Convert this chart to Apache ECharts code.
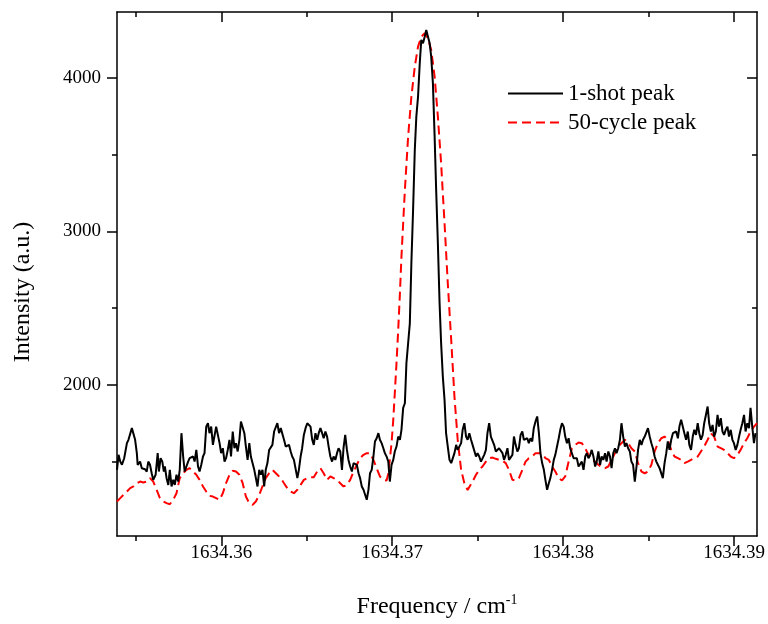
<!DOCTYPE html>
<html>
<head>
<meta charset="utf-8">
<script src="https://cdn.jsdelivr.net/npm/echarts@6/dist/echarts.min.js"></script>
<style>html,body{margin:0;padding:0;background:#fff}#c{width:768px;height:624px}</style>
</head>
<body>
<div id="c"></div>
<script>
// ---- data ----
const seriesNames = ['1-shot peak', '50-cycle peak'];
const xTickLabels = [1634.36, 1634.37, 1634.38, 1634.39];
const xMinorTicks = [1634.355, 1634.365, 1634.375, 1634.385];
const yTickLabels = [2000, 3000, 4000];
const yMinorTicks = [1500, 2500, 3500];
const xRange = [1634.3539, 1634.39134];
const yRange = [1015, 4430];

// 1-shot peak: [frequency (cm^-1), intensity (a.u.)]
const shotPeak = [
[1634.35390,1446],[1634.35399,1544],[1634.35409,1500],[1634.35419,1479],[1634.35432,1522],[1634.35448,1620],[1634.35457,1642],[1634.35467,1631],[1634.35477,1718],[1634.35486,1724],[1634.35496,1642],[1634.35506,1555],[1634.35511,1479],[1634.35519,1468],[1634.35525,1500],[1634.35535,1457],[1634.35544,1446],[1634.35554,1450],[1634.35564,1435],[1634.35573,1500],[1634.35583,1479],[1634.35593,1424],[1634.35602,1381],[1634.35608,1370],[1634.35616,1414],[1634.35628,1555],[1634.35635,1435],[1634.35645,1522],[1634.35655,1500],[1634.35664,1435],[1634.35670,1468],[1634.35680,1392],[1634.35690,1348],[1634.35699,1446],[1634.35709,1338],[1634.35719,1381],[1634.35728,1348],[1634.35738,1414],[1634.35748,1370],[1634.35757,1446],[1634.35767,1685],[1634.35777,1533],[1634.35786,1435],[1634.35796,1468],[1634.35806,1500],[1634.35815,1522],[1634.35825,1511],[1634.35835,1533],[1634.35844,1500],[1634.35854,1576],[1634.35864,1468],[1634.35873,1435],[1634.35883,1479],[1634.35893,1533],[1634.35902,1555],[1634.35912,1728],[1634.35922,1750],[1634.35931,1685],[1634.35941,1728],[1634.35951,1609],[1634.35960,1620],[1634.35970,1728],[1634.35980,1674],[1634.35990,1620],[1634.35999,1555],[1634.36009,1587],[1634.36019,1500],[1634.36028,1522],[1634.36038,1576],[1634.36048,1642],[1634.36057,1533],[1634.36067,1696],[1634.36077,1587],[1634.36086,1620],[1634.36096,1566],[1634.36106,1642],[1634.36115,1761],[1634.36125,1772],[1634.36135,1685],[1634.36144,1598],[1634.36154,1511],[1634.36164,1620],[1634.36173,1533],[1634.36183,1522],[1634.36193,1446],[1634.36202,1446],[1634.36212,1338],[1634.36222,1446],[1634.36231,1414],[1634.36241,1446],[1634.36251,1338],[1634.36260,1446],[1634.36270,1490],[1634.36280,1576],[1634.36290,1587],[1634.36299,1609],
[1634.36309,1696],[1634.36319,1685],[1634.36328,1750],[1634.36338,1685],[1634.36348,1718],[1634.36357,1707],[1634.36367,1642],[1634.36377,1598],[1634.36386,1587],[1634.36396,1609],[1634.36406,1566],[1634.36415,1533],[1634.36425,1511],[1634.36435,1500],[1634.36445,1392],[1634.36454,1446],[1634.36464,1533],[1634.36473,1587],[1634.36483,1674],[1634.36493,1718],[1634.36503,1750],[1634.36512,1750],[1634.36522,1728],[1634.36532,1642],[1634.36541,1609],[1634.36551,1685],[1634.36561,1642],[1634.36570,1685],[1634.36580,1718],[1634.36590,1685],[1634.36599,1652],[1634.36609,1696],[1634.36619,1663],[1634.36628,1598],[1634.36638,1533],[1634.36648,1500],[1634.36657,1533],[1634.36667,1511],[1634.36677,1555],[1634.36686,1587],[1634.36696,1566],[1634.36706,1446],[1634.36715,1587],[1634.36725,1674],[1634.36735,1576],[1634.36744,1511],[1634.36754,1468],[1634.36764,1435],[1634.36774,1490],[1634.36783,1500],[1634.36793,1479],[1634.36803,1424],[1634.36812,1392],[1634.36822,1338],[1634.36832,1316],[1634.36841,1327],[1634.36851,1251],[1634.36861,1316],[1634.36870,1424],[1634.36880,1446],[1634.36890,1533],[1634.36899,1631],[1634.36909,1652],[1634.36919,1685],[1634.36928,1642],[1634.36938,1620],[1634.36948,1587],[1634.36957,1555],[1634.36967,1533],[1634.36977,1500],[1634.36986,1370],[1634.36996,1479],[1634.37006,1511],[1634.37015,1566],[1634.37025,1598],[1634.37035,1663],[1634.37045,1642],[1634.37054,1707],[1634.37064,1850],
[1634.37074,1880],[1634.37083,2141],[1634.37093,2271],[1634.37103,2401],[1634.37112,2792],[1634.37122,3140],[1634.37132,3531],[1634.37141,3748],[1634.37151,3878],[1634.37161,4096],[1634.37170,4248],[1634.37180,4226],[1634.37190,4269],[1634.37199,4313],[1634.37209,4324],[1634.37219,4226],[1634.37228,4139],[1634.37238,3965],[1634.37248,3618],[1634.37257,3270],[1634.37267,2923],[1634.37277,2532],[1634.37286,2271],[1634.37296,2054],[1634.37306,1902],[1634.37315,1685],
[1634.37325,1598],[1634.37335,1511],[1634.37345,1490],[1634.37354,1479],[1634.37364,1555],[1634.37374,1609],[1634.37383,1576],[1634.37393,1566],[1634.37403,1620],[1634.37412,1707],[1634.37422,1750],[1634.37432,1663],[1634.37441,1642],[1634.37451,1685],[1634.37461,1642],[1634.37470,1609],[1634.37480,1620],[1634.37490,1533],[1634.37499,1555],[1634.37509,1533],[1634.37519,1500],[1634.37528,1490],[1634.37538,1544],[1634.37548,1576],[1634.37557,1685],[1634.37567,1750],[1634.37577,1663],[1634.37587,1652],[1634.37596,1609],[1634.37606,1566],[1634.37616,1555],[1634.37625,1587],[1634.37635,1576],[1634.37645,1555],[1634.37654,1511],[1634.37664,1544],[1634.37674,1587],[1634.37683,1511],[1634.37693,1522],[1634.37703,1544],[1634.37712,1663],[1634.37722,1609],[1634.37732,1566],[1634.37741,1587],[1634.37751,1674],[1634.37761,1696],[1634.37770,1642],[1634.37780,1642],[1634.37790,1652],[1634.37799,1620],[1634.37809,1652],[1634.37819,1631],[1634.37828,1718],[1634.37838,1761],[1634.37848,1794],[1634.37858,1685],[1634.37867,1555],[1634.37877,1490],[1634.37887,1446],[1634.37896,1381],[1634.37906,1316],[1634.37916,1359],[1634.37925,1392],[1634.37935,1446],[1634.37945,1511],[1634.37954,1544],[1634.37964,1598],[1634.37974,1652],[1634.37983,1707],[1634.37993,1750],[1634.38003,1728],[1634.38012,1663],[1634.38022,1620],[1634.38032,1652],[1634.38041,1587],[1634.38051,1576],[1634.38061,1522],[1634.38070,1511],[1634.38080,1522],[1634.38090,1468],[1634.38099,1479],[1634.38109,1500],[1634.38119,1446],[1634.38129,1533],[1634.38138,1555],[1634.38148,1522],[1634.38158,1544],
[1634.38167,1576],[1634.38177,1533],[1634.38187,1468],[1634.38196,1500],[1634.38206,1566],[1634.38216,1479],[1634.38225,1533],[1634.38235,1511],[1634.38245,1555],[1634.38254,1500],[1634.38264,1566],[1634.38274,1533],[1634.38283,1457],[1634.38293,1555],[1634.38303,1587],[1634.38312,1555],[1634.38322,1587],[1634.38332,1642],[1634.38341,1750],[1634.38351,1663],[1634.38361,1598],[1634.38370,1620],[1634.38380,1587],[1634.38390,1566],[1634.38399,1500],[1634.38409,1479],[1634.38419,1370],[1634.38429,1468],[1634.38438,1576],[1634.38448,1642],[1634.38458,1609],[1634.38467,1642],[1634.38477,1663],[1634.38487,1652],[1634.38496,1718],[1634.38506,1663],[1634.38516,1620],[1634.38525,1587],[1634.38535,1533],[1634.38545,1500],[1634.38554,1479],[1634.38564,1457],[1634.38574,1446],[1634.38583,1392],[1634.38593,1490],[1634.38603,1555],[1634.38612,1631],[1634.38622,1576],[1634.38632,1642],[1634.38642,1685],[1634.38651,1685],[1634.38661,1696],[1634.38671,1652],[1634.38680,1728],[1634.38690,1772],[1634.38700,1761],[1634.38709,1685],[1634.38719,1642],[1634.38729,1696],[1634.38738,1609],[1634.38748,1576],[1634.38758,1663],[1634.38767,1707],[1634.38777,1674],[1634.38787,1750],[1634.38796,1685],[1634.38806,1642],[1634.38816,1674],[1634.38825,1750],[1634.38835,1804],[1634.38845,1859],[1634.38854,1750],[1634.38864,1696],[1634.38874,1739],[1634.38883,1663],[1634.38893,1696],[1634.38903,1804],[1634.38912,1728],[1634.38922,1783],[1634.38932,1696],[1634.38941,1674],[1634.38951,1707],[1634.38961,1728],[1634.38970,1663],[1634.38980,1707],[1634.38990,1642],[1634.38999,1620],[1634.39009,1576],[1634.39019,1609],[1634.39029,1663],[1634.39038,1707],[1634.39048,1750],[1634.39058,1804],[1634.39067,1696],[1634.39077,1750],[1634.39087,1718],[1634.39096,1850],[1634.39106,1728],[1634.39116,1620],[1634.39125,1685]
];

// 50-cycle peak: [frequency (cm^-1), intensity (a.u.)]
const cyclePeak = [
[1634.35390,1240],[1634.35409,1262],[1634.35428,1283],[1634.35448,1305],[1634.35467,1327],[1634.35486,1338],[1634.35506,1359],[1634.35525,1370],[1634.35544,1364],[1634.35564,1370],[1634.35583,1392],[1634.35602,1370],[1634.35622,1316],[1634.35641,1262],[1634.35661,1240],[1634.35680,1229],[1634.35699,1222],[1634.35719,1251],[1634.35738,1294],[1634.35757,1392],[1634.35777,1424],[1634.35796,1446],[1634.35815,1457],[1634.35835,1435],[1634.35854,1414],[1634.35873,1381],[1634.35893,1338],[1634.35912,1305],[1634.35931,1277],[1634.35951,1272],[1634.35970,1262],[1634.35990,1251],[1634.36009,1294],[1634.36028,1359],[1634.36048,1414],[1634.36067,1440],[1634.36086,1435],[1634.36106,1414],[1634.36125,1359],[1634.36144,1272],[1634.36164,1229],[1634.36183,1218],[1634.36202,1240],[1634.36222,1283],[1634.36241,1338],[1634.36260,1392],[1634.36280,1424],[1634.36299,1446],
[1634.36309,1457],[1634.36328,1414],[1634.36348,1392],[1634.36367,1359],[1634.36386,1327],[1634.36406,1305],[1634.36425,1294],[1634.36445,1316],[1634.36464,1348],[1634.36483,1381],[1634.36503,1392],[1634.36522,1398],[1634.36541,1398],[1634.36561,1435],[1634.36580,1457],[1634.36599,1424],[1634.36619,1381],[1634.36638,1403],[1634.36657,1392],[1634.36677,1381],[1634.36696,1359],[1634.36715,1338],[1634.36735,1348],[1634.36754,1381],[1634.36774,1435],[1634.36793,1479],[1634.36812,1522],[1634.36832,1544],[1634.36851,1555],[1634.36870,1555],[1634.36890,1511],[1634.36909,1457],[1634.36928,1403],[1634.36948,1381],[1634.36967,1377],
[1634.36977,1420],[1634.36996,1619],[1634.37006,1771],[1634.37015,1945],[1634.37025,2141],[1634.37035,2358],[1634.37045,2597],[1634.37054,2836],[1634.37064,3053],[1634.37074,3270],[1634.37093,3618],[1634.37112,3878],[1634.37132,4074],[1634.37151,4204],[1634.37170,4269],[1634.37190,4291],[1634.37209,4258],[1634.37228,4182],[1634.37248,4009],[1634.37267,3748],[1634.37286,3444],[1634.37306,3053],[1634.37325,2662],[1634.37345,2293],[1634.37364,1923],[1634.37383,1641],[1634.37403,1446],[1634.37422,1359],[1634.37441,1315],
[1634.37451,1327],[1634.37470,1370],[1634.37490,1414],[1634.37509,1446],[1634.37528,1468],[1634.37548,1500],[1634.37567,1522],[1634.37587,1526],[1634.37606,1518],[1634.37625,1511],[1634.37645,1505],[1634.37664,1490],[1634.37683,1446],[1634.37703,1381],[1634.37722,1377],[1634.37741,1392],[1634.37761,1446],[1634.37780,1500],[1634.37799,1522],[1634.37819,1533],[1634.37838,1555],[1634.37858,1555],[1634.37877,1555],[1634.37896,1522],[1634.37916,1511],[1634.37935,1468],[1634.37954,1435],[1634.37974,1392],[1634.37993,1377],[1634.38012,1403],[1634.38032,1500],[1634.38051,1587],[1634.38070,1609],[1634.38090,1624],[1634.38109,1620],[1634.38129,1587],[1634.38148,1544],
[1634.38167,1511],[1634.38187,1500],[1634.38206,1479],[1634.38225,1464],[1634.38245,1457],[1634.38264,1468],[1634.38283,1511],[1634.38303,1555],[1634.38322,1598],[1634.38341,1620],[1634.38361,1642],[1634.38380,1620],[1634.38399,1587],[1634.38419,1566],[1634.38438,1490],[1634.38458,1435],[1634.38477,1424],[1634.38496,1435],[1634.38516,1479],[1634.38535,1566],[1634.38554,1620],[1634.38574,1652],[1634.38593,1663],[1634.38612,1642],[1634.38632,1576],[1634.38651,1533],[1634.38671,1522],[1634.38690,1511],[1634.38709,1490],[1634.38729,1500],[1634.38748,1511],[1634.38767,1522],[1634.38787,1533],[1634.38806,1566],[1634.38825,1598],[1634.38845,1642],[1634.38864,1685],[1634.38883,1663],[1634.38903,1598],[1634.38922,1587],[1634.38941,1576],[1634.38961,1555],[1634.38980,1533],[1634.38999,1522],[1634.39019,1544],[1634.39038,1576],[1634.39058,1620],[1634.39077,1652],[1634.39096,1696],[1634.39116,1728],[1634.39134,1750]
];

// ---- chart ----
const FONT = 'Liberation Serif';
const AX = { color: '#000', width: 1.5 };
function xAxisDef(pos, ticks, len, inside, labels, line, extra) {
  return Object.assign({
    type: 'value', position: pos, min: xRange[0], max: xRange[1],
    axisLine: { show: line, onZero: false, lineStyle: AX },
    axisTick: { show: true, inside: inside, length: len, customValues: ticks, lineStyle: AX },
    axisLabel: labels ? { show: true, customValues: ticks, formatter: v => v.toFixed(2),
      fontSize: 19, fontFamily: FONT, color: '#000', margin: 8 } : { show: false },
    splitLine: { show: false }, minorTick: { show: false }
  }, extra || {});
}
function yAxisDef(pos, ticks, len, inside, labels, line, extra) {
  return Object.assign({
    type: 'value', position: pos, min: yRange[0], max: yRange[1],
    axisLine: { show: line, onZero: false, lineStyle: AX },
    axisTick: { show: true, inside: inside, length: len, customValues: ticks, lineStyle: AX },
    axisLabel: labels ? { show: true, customValues: ticks, formatter: v => String(v),
      fontSize: 19, fontFamily: FONT, color: '#000', margin: 16 } : { show: false },
    splitLine: { show: false }, minorTick: { show: false }
  }, extra || {});
}

const chart = echarts.init(document.getElementById('c'), null, { renderer: 'canvas' });
chart.setOption({
  animation: false,
  backgroundColor: '#fff',
  grid: { left: 117, right: 6.5, top: 12, bottom: 88, containLabel: false },
  legend: {
    orient: 'vertical', left: 507, top: 82, padding: 0,
    itemWidth: 55, itemHeight: 14, itemGap: 6,
    itemStyle: { opacity: 0 },
    textStyle: { fontSize: 23, fontFamily: FONT, color: '#000' },
    data: seriesNames
  },
  xAxis: [
    xAxisDef('bottom', xTickLabels, 10, false, true, true, {
      name: 'Frequency / cm{sup|-1}', nameLocation: 'middle', nameGap: 57,
      nameTextStyle: { fontSize: 24, fontFamily: FONT, color: '#000',
        rich: { sup: { fontSize: 14, fontFamily: FONT, color: '#000', padding: [0, 0, 13, 0] } } }
    }),
    xAxisDef('bottom', xMinorTicks, 5, false, false, false),
    xAxisDef('top', xTickLabels, 10, true, false, true),
    xAxisDef('top', xMinorTicks, 5, true, false, false)
  ],
  yAxis: [
    yAxisDef('left', yTickLabels, 10, false, true, true, {
      name: 'Intensity (a.u.)', nameLocation: 'middle', nameGap: 82,
      nameTextStyle: { fontSize: 24, fontFamily: FONT, color: '#000', padding: [0, 36, 0, 0] }
    }),
    yAxisDef('left', yMinorTicks, 5, false, false, false),
    yAxisDef('right', yTickLabels, 10, true, false, true),
    yAxisDef('right', yMinorTicks, 5, true, false, false)
  ],
  series: [
    { name: seriesNames[0], type: 'line', xAxisIndex: 0, yAxisIndex: 0, data: shotPeak,
      symbol: 'none', lineStyle: { color: '#000', width: 2 }, itemStyle: { color: '#000' }, z: 3 },
    { name: seriesNames[1], type: 'line', xAxisIndex: 0, yAxisIndex: 0, data: cyclePeak,
      symbol: 'none', smooth: false,
      lineStyle: { color: '#ff0000', width: 2, type: [9, 5] }, itemStyle: { color: '#ff0000' }, z: 2 }
  ]
});
</script>
</body>
</html>
